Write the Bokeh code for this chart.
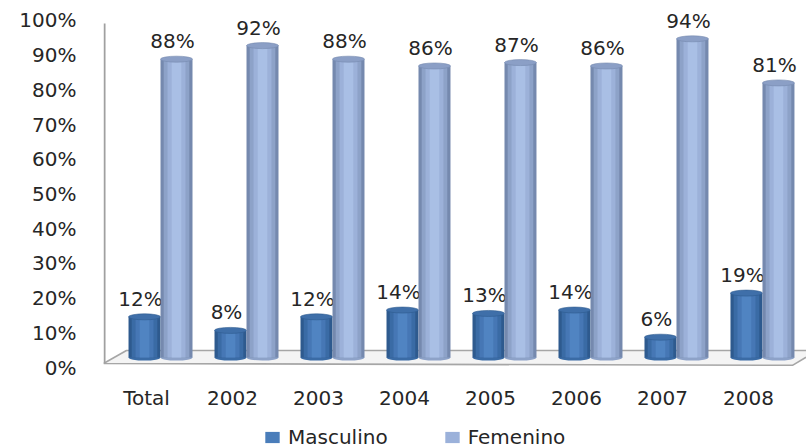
from bokeh.plotting import figure
from bokeh.layouts import column
from bokeh.models import Range1d, LinearAxis, FixedTicker, Legend, LegendItem, ColumnDataSource
from bokeh.core.properties import value
from bokeh.embed import file_html
from bokeh.resources import INLINE

categories = ["Total", "2002", "2003", "2004", "2005", "2006", "2007", "2008"]
masculino = [12, 8, 12, 14, 13, 14, 6, 19]
femenino = [88, 92, 88, 86, 87, 86, 94, 81]
y_ticks = [0, 10, 20, 30, 40, 50, 60, 70, 80, 90, 100]
series_names = ["Masculino", "Femenino"]

FONT = "DejaVu Sans"
TXT = "#262626"

idx = list(range(len(categories)))
bw = 0.372
xm = [i - bw / 2 for i in idx]
xf = [i + bw / 2 for i in idx]

x0, x1 = -0.663, 7.512
y0, y1 = -3.24, 102.36

p = figure(width=806, height=416, output_backend="svg", toolbar_location=None,
           x_range=Range1d(x0, x1), y_range=Range1d(y0, y1),
           x_axis_location=None, y_axis_location=None,
           min_border_left=103, min_border_right=0, min_border_top=10, min_border_bottom=48)
p.outline_line_color = None
p.xgrid.visible = False
p.ygrid.visible = False
p.background_fill_color = "white"

p.extra_y_ranges = {"yax": Range1d(-0.288, 102.88)}
p.extra_x_ranges = {"xax": Range1d(x0 + 0.163, x1 + 0.163)}

yax = LinearAxis(y_range_name="yax", ticker=FixedTicker(ticks=y_ticks))
yax.major_label_overrides = {t: f"{t}%" for t in y_ticks}
yax.axis_line_color = None
yax.major_tick_line_color = None
yax.minor_tick_line_color = None
yax.major_tick_out = 0
yax.major_label_standoff = 27
yax.major_label_text_font = FONT
yax.major_label_text_font_size = "20px"
yax.major_label_text_color = TXT
p.add_layout(yax, "left")

xax = LinearAxis(x_range_name="xax", ticker=FixedTicker(ticks=idx))
xax.major_label_overrides = {i: c for i, c in zip(idx, categories)}
xax.axis_line_color = None
xax.major_tick_line_color = None
xax.minor_tick_line_color = None
xax.major_tick_out = 0
xax.major_label_standoff = 17
xax.major_label_text_font = FONT
xax.major_label_text_font_size = "20px"
xax.major_label_text_color = TXT
p.add_layout(xax, "below")

fy_front, fy_back = -1.77, 2.06
p.patch([x0, x0 + 0.267, x1 + 0.2, x1 - 0.01, x1 - 0.163],
        [fy_front, fy_back, fy_back, 0.0, -2.3],
        fill_color="#F4F4F4", line_color="#A6A6A6", line_width=1.6)
p.segment(x0=[x0 + 0.012], y0=[fy_front], x1=[x0 + 0.012], y1=[98.5],
          line_color="#A0A0A0", line_width=2)

m_cols = ["#2E5A8E", "#3A6BA5", "#4677B5", "#5084C2"]
f_cols = ["#7589AE", "#8DA2C8", "#9CB1D9", "#A9BFE5"]
fracs = [1.0, 0.8, 0.56, 0.3]

src_m = ColumnDataSource(dict(x=xm, top=masculino, lab=[f"{v}%" for v in masculino]))
src_f = ColumnDataSource(dict(x=xf, top=femenino, lab=[f"{v}%" for v in femenino]))

for src, cols, topc in [(src_m, m_cols, "#3F6FA9"), (src_f, f_cols, "#8B9FC6")]:
    p.ellipse(x="x", y=0, width=bw, height=6, height_units="screen", source=src,
              fill_color=cols[1], line_color=None)
    for fr, c in zip(fracs, cols):
        p.vbar(x="x", top="top", bottom=0, width=bw * fr, source=src,
               fill_color=c, line_color=None)
    p.ellipse(x="x", y="top", width=bw, height=6, height_units="screen", source=src,
              fill_color=topc, line_color=cols[0], line_width=0.6)
    p.text(x="x", y="top", text="lab", source=src, x_offset=-4, y_offset=-18,
           text_align="center", text_baseline="middle",
           text_font=value(FONT), text_font_size="20px", text_color=TXT)

# legend strip below the chart (its frame is aligned with the chart's frame);
# its ranges lie far from the data so only the legend swatches show
lg = figure(width=806, height=32, output_backend="svg", toolbar_location=None,
            x_range=Range1d(1000, 2000), y_range=Range1d(1000, 2000),
            x_axis_location=None, y_axis_location=None, min_border=0)
lg.outline_line_color = None
lg.xgrid.visible = False
lg.ygrid.visible = False
leg_colors = ["#4A7DBA", "#9BB1DA"]
items = []
for name, c, xs, vals in zip(series_names, leg_colors, [xm, xf], [masculino, femenino]):
    r = lg.vbar(x=xs, top=vals, bottom=vals, width=bw, fill_color=c, line_color=None)
    items.append(LegendItem(label=name, renderers=[r]))
legend = Legend(items=items, orientation="horizontal", location=(160, -1))
legend.border_line_color = None
legend.background_fill_alpha = 0
legend.label_text_font = FONT
legend.label_text_font_size = "20px"
legend.label_text_color = TXT
legend.glyph_width = 18
legend.glyph_height = 14
legend.label_standoff = 7
legend.spacing = 55
legend.padding = 0
legend.margin = 0
lg.add_layout(legend, "center")

open("out.html", "w").write(file_html(column(p, lg, spacing=0), INLINE))
